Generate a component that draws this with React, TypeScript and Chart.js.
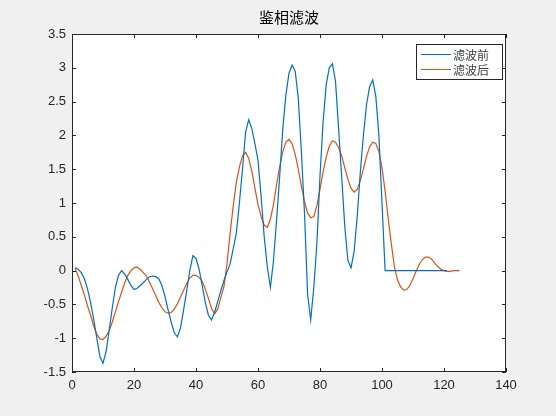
import { useEffect, useRef } from "react";
import { Chart, registerables } from "chart.js";

Chart.register(...registerables);

const title = "鉴相滤波";
const seriesNames = ["滤波前", "滤波后"];
const xTicks = [0, 20, 40, 60, 80, 100, 120, 140];
const yTicks = [-1.5, -1, -0.5, 0, 0.5, 1, 1.5, 2, 2.5, 3, 3.5];

// signal before filtering, samples 1..121
const beforeValues = [
  0.04, 0.02, -0.03, -0.12, -0.27, -0.47, -0.72, -1.0, -1.27, -1.37,
  -1.2, -0.88, -0.55, -0.25, -0.07, 0.0, -0.05, -0.13, -0.22, -0.28,
  -0.26, -0.22, -0.18, -0.13, -0.09, -0.08, -0.09, -0.12, -0.22, -0.38,
  -0.58, -0.76, -0.92, -0.98, -0.85, -0.58, -0.3, 0.0, 0.22, 0.18,
  0.02, -0.22, -0.47, -0.66, -0.73, -0.62, -0.46, -0.3, -0.15, -0.02,
  0.1, 0.32, 0.55, 1.0, 1.5, 2.05, 2.23, 2.1, 1.88, 1.63,
  1.1, 0.5, 0.06, -0.25, 0.15, 0.75, 1.4, 2.1, 2.6, 2.92,
  3.04, 2.95, 2.55, 1.75, 0.85, -0.35, -0.73, -0.25, 0.4, 1.4,
  2.2, 2.75, 3.0, 3.06, 2.8, 2.1, 1.38, 0.65, 0.15, 0.04,
  0.28, 0.8, 1.45, 2.0, 2.45, 2.72, 2.82, 2.58, 2.0, 1.0,
  0, 0, 0, 0, 0, 0, 0, 0, 0, 0,
  0, 0, 0, 0, 0, 0, 0, 0, 0, 0,
  0,
];

// filtered signal, samples 1..125
const afterValues = [
  0.03, -0.08, -0.22, -0.36, -0.52, -0.66, -0.82, -0.94, -1.01, -1.02,
  -0.97, -0.89, -0.76, -0.61, -0.46, -0.32, -0.18, -0.07, 0.0, 0.04,
  0.05, 0.02, -0.03, -0.08, -0.17, -0.27, -0.37, -0.47, -0.55, -0.61,
  -0.63, -0.62, -0.57, -0.49, -0.39, -0.29, -0.19, -0.11, -0.07, -0.07,
  -0.1, -0.16, -0.27, -0.41, -0.56, -0.64, -0.57, -0.4, -0.24, 0.1,
  0.55, 0.95, 1.3, 1.53, 1.7, 1.75, 1.66, 1.47, 1.22, 0.98,
  0.8, 0.67, 0.64, 0.76, 0.98, 1.27, 1.54, 1.76, 1.9, 1.94,
  1.88, 1.72, 1.5, 1.25, 1.02, 0.85, 0.78, 0.8, 0.96, 1.2,
  1.46, 1.68, 1.84, 1.92, 1.9, 1.82, 1.7, 1.52, 1.35, 1.22,
  1.16, 1.2, 1.33, 1.5, 1.69, 1.83, 1.9, 1.88, 1.76, 1.52,
  1.18, 0.77, 0.4, 0.06, -0.14, -0.24, -0.29, -0.28, -0.22, -0.12,
  -0.01, 0.09, 0.16, 0.2, 0.2, 0.17, 0.11, 0.06, 0.02, 0.0,
  -0.01, -0.01, 0.0, 0.0, 0.0,
];

const colors = ["#0072BD", "#D95319"];
const axisColor = "#262626";
const cjkFont = '"Noto Sans CJK SC", sans-serif';
const numFont = '"Liberation Sans", Arial, sans-serif';

const matlabAxes = {
  id: "matlabAxes",
  beforeDraw(chart: any) {
    const { ctx, chartArea: a } = chart;
    ctx.save();
    ctx.fillStyle = "#f0f0f0";
    ctx.fillRect(0, 0, chart.width, chart.height);
    ctx.fillStyle = "#ffffff";
    ctx.fillRect(a.left, a.top, a.right - a.left, a.bottom - a.top);
    ctx.restore();
  },
  afterDraw(chart: any) {
    const { ctx, chartArea: a, scales } = chart;
    const tl = 4;
    ctx.save();
    ctx.strokeStyle = axisColor;
    ctx.lineWidth = 1;
    ctx.beginPath();
    xTicks.forEach((v) => {
      const px = Math.round(scales.x.getPixelForValue(v)) + 0.5;
      ctx.moveTo(px, a.bottom);
      ctx.lineTo(px, a.bottom - tl);
      ctx.moveTo(px, a.top);
      ctx.lineTo(px, a.top + tl);
    });
    yTicks.forEach((v) => {
      const py = Math.round(scales.y.getPixelForValue(v)) + 0.5;
      ctx.moveTo(a.left, py);
      ctx.lineTo(a.left + tl, py);
      ctx.moveTo(a.right, py);
      ctx.lineTo(a.right - tl, py);
    });
    ctx.stroke();
    ctx.strokeRect(a.left + 0.5, a.top + 0.5, a.right - a.left - 1, a.bottom - a.top - 1);

    // title
    ctx.fillStyle = "#000000";
    ctx.font = `15px ${cjkFont}`;
    ctx.textAlign = "center";
    ctx.textBaseline = "middle";
    ctx.fillText(title, (a.left + a.right) / 2, 17);

    // legend box
    const bx = a.right - 90;
    const by = a.top + 10;
    const bw = 86;
    const bh = 35;
    ctx.fillStyle = "#ffffff";
    ctx.fillRect(bx, by, bw, bh);
    ctx.strokeStyle = "#262626";
    ctx.strokeRect(bx + 0.5, by + 0.5, bw, bh);
    ctx.font = `12px ${cjkFont}`;
    ctx.textAlign = "left";
    seriesNames.forEach((name, i) => {
      const y = by + 10 + i * 15;
      ctx.strokeStyle = colors[i];
      ctx.lineWidth = 1;
      ctx.beginPath();
      ctx.moveTo(bx + 5, y + 0.5);
      ctx.lineTo(bx + 35, y + 0.5);
      ctx.stroke();
      ctx.fillStyle = "#404040";
      ctx.fillText(name, bx + 37, y + 1);
    });
    ctx.restore();
  },
};

const App = () => {
  const canvasRef = useRef<HTMLCanvasElement>(null);
  const chartRef = useRef<Chart | null>(null);

  useEffect(() => {
    document.body.style.margin = "0";
    if (!canvasRef.current) return;
    if (chartRef.current) chartRef.current.destroy();

    chartRef.current = new Chart(canvasRef.current, {
      type: "line",
      data: {
        datasets: [
          {
            label: seriesNames[0],
            data: beforeValues.map((y, i) => ({ x: i + 1, y })),
            borderColor: colors[0],
            borderWidth: 1.2,
            pointRadius: 0,
            tension: 0,
          },
          {
            label: seriesNames[1],
            data: afterValues.map((y, i) => ({ x: i + 1, y })),
            borderColor: colors[1],
            borderWidth: 1.2,
            pointRadius: 0,
            tension: 0,
          },
        ],
      },
      options: {
        responsive: false,
        animation: false,
        layout: { padding: { top: 34, right: 50, left: 0, bottom: 0 } },
        plugins: {
          legend: { display: false },
          title: { display: false },
          tooltip: { enabled: false },
        },
        scales: {
          x: {
            type: "linear",
            min: 0,
            max: 140,
            afterFit: (s: any) => {
              s.height = 44;
            },
            afterBuildTicks: (s: any) => {
              s.ticks = xTicks.map((value) => ({ value }));
            },
            grid: { display: false, drawTicks: false },
            border: { display: false },
            ticks: {
              color: axisColor,
              font: { family: numFont, size: 13 },
              padding: 6,
              maxRotation: 0,
            },
          },
          y: {
            type: "linear",
            min: -1.5,
            max: 3.5,
            afterFit: (s: any) => {
              s.width = 72;
            },
            afterBuildTicks: (s: any) => {
              s.ticks = yTicks.map((value) => ({ value }));
            },
            grid: { display: false, drawTicks: false },
            border: { display: false },
            ticks: {
              color: axisColor,
              font: { family: numFont, size: 13 },
              padding: 6,
              callback: (v: any) => String(v),
            },
          },
        },
      },
      plugins: [matlabAxes],
    });

    return () => {
      if (chartRef.current) {
        chartRef.current.destroy();
        chartRef.current = null;
      }
    };
  }, []);

  return (
    <div style={{ width: 556, height: 416, background: "#f0f0f0" }}>
      <canvas ref={canvasRef} width={556} height={416} />
    </div>
  );
};

export default App;
